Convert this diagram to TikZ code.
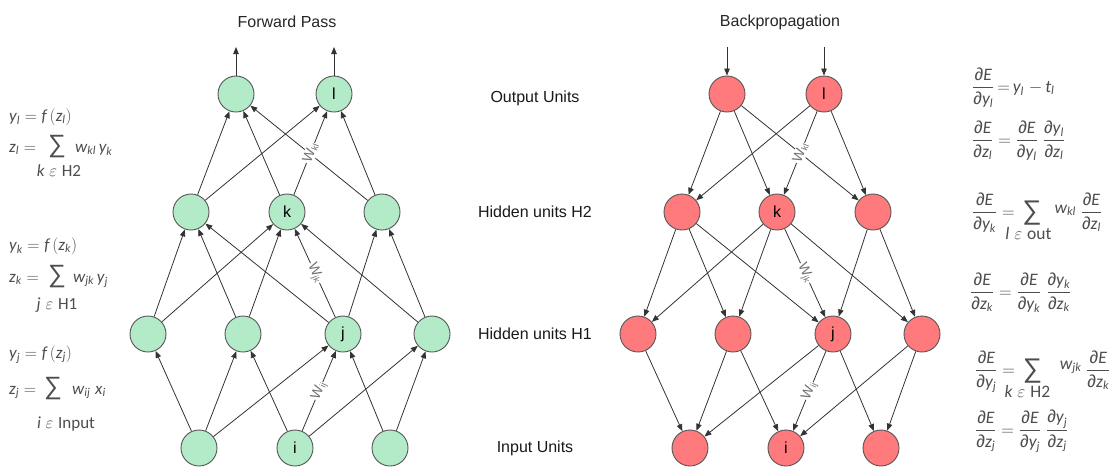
\RequirePackage{fix-cm}
\documentclass[tikz,border=0pt]{standalone}
\usepackage{amsmath}
\usepackage{fontspec}
\setmainfont{Liberation Sans}
\newfontfamily\fml{Carlito}
\usetikzlibrary{arrows.meta}

\definecolor{fwdfill}{HTML}{B3EBC8}
\definecolor{bwdfill}{HTML}{FF7A7C}
\definecolor{ringcol}{HTML}{555555}
\definecolor{edgecol}{HTML}{333333}
\definecolor{eqgray}{HTML}{4D4D4D}
\definecolor{wgray}{HTML}{707070}

% italic variable, upright word, partial sign
\newcommand\mvar[1]{\text{\fml\itshape #1}}
\newcommand\mrm[1]{\text{\fml #1}}
\newcommand\dpart{\text{∂}}
\newcommand\bigsum{\vcenter{\hbox{\fontsize{27}{27}\selectfont ∑}}}
% limit set under the sum without widening it; #1 = shift to the left
\newcommand\sumlim[2]{\hbox to 0pt{\hskip-#1$\textstyle #2$\hss}}
\newcommand\wt[1]{W{\fontsize{9}{9}\selectfont\raisebox{-1.5pt}{#1}}}

\begin{document}
\begin{tikzpicture}[x=1pt, y=-1pt,
  unit/.style={circle, draw=ringcol, line width=0.9pt, minimum size=36pt,
    inner sep=0pt, font=\fontsize{16}{16}\selectfont},
  fwd/.style={unit, fill=fwdfill},
  bwd/.style={unit, fill=bwdfill},
  conn/.style={draw=edgecol, line width=0.8pt,
    -{Triangle[length=7pt,width=5.5pt]}},
  wlabel/.style={sloped, fill=white, inner sep=0.8pt, text=wgray,
    font=\fontsize{14}{14}\selectfont},
  title/.style={text=black!85, font=\fontsize{16}{16}\selectfont},
  layer/.style={text=black!90, font=\fontsize{16}{16}\selectfont},
  eqn/.style={inner sep=0pt, text=eqgray, font=\fontsize{17}{20}\selectfont},
  reqn/.style={inner sep=0pt, text=eqgray, font=\fontsize{17.5}{20}\selectfont},
  sumsym/.style={inner sep=0pt, text=eqgray, font=\fontsize{25}{25}\selectfont}]

\useasboundingbox (0,0) rectangle (1117,467);

% titles
\node[title] (tf) at (287,22) {Forward Pass};
\node[title] (tb) at (780,22) {Backpropagation};

% layer names
\node[layer] (lo) at (535,98) {Output Units};
\node[layer] (l2) at (535,212) {Hidden units H2};
\node[layer] (l1) at (535,334) {Hidden units H1};
\node[layer] (li) at (535,448) {Input Units};

% ---------- forward network ----------
\node[fwd] (fo1) at (236,94) {};
\node[fwd] (fo2) at (334,94) {l};
\node[fwd] (fh2a) at (191,212) {};
\node[fwd] (fk) at (287,212) {k};
\node[fwd] (fh2c) at (382,212) {};
\node[fwd] (fh1a) at (148,334) {};
\node[fwd] (fh1b) at (243,334) {};
\node[fwd] (fj) at (343,334) {j};
\node[fwd] (fh1d) at (432,334) {};
\node[fwd] (fia) at (199,448) {};
\node[fwd] (fi) at (295,448) {i};
\node[fwd] (fic) at (390,448) {};

\coordinate (fo1t) at (236,47);
\coordinate (fo2t) at (334,47);
\draw[conn] (fo1) -- (fo1t);
\draw[conn] (fo2) -- (fo2t);

\draw[conn] (fh2a) -- (fo1);
\draw[conn] (fk) -- (fo1);
\draw[conn] (fh2c) -- (fo1);
\draw[conn] (fh2a) -- (fo2);
\draw[conn] (fk) -- node[wlabel] {\wt{kl}} (fo2);
\draw[conn] (fh2c) -- (fo2);

\draw[conn] (fh1a) -- (fh2a);
\draw[conn] (fh1a) -- (fk);
\draw[conn] (fh1b) -- (fh2a);
\draw[conn] (fh1b) -- (fk);
\draw[conn] (fj) -- (fh2a);
\draw[conn] (fj) -- node[wlabel] {\wt{jk}} (fk);
\draw[conn] (fj) -- (fh2c);
\draw[conn] (fh1d) -- (fk);
\draw[conn] (fh1d) -- (fh2c);

\draw[conn] (fia) -- (fh1a);
\draw[conn] (fia) -- (fh1b);
\draw[conn] (fia) -- (fj);
\draw[conn] (fi) -- (fh1b);
\draw[conn] (fi) -- node[wlabel] {\wt{ij}} (fj);
\draw[conn] (fi) -- (fh1d);
\draw[conn] (fic) -- (fj);
\draw[conn] (fic) -- (fh1d);

% ---------- backward network ----------
\node[bwd] (bo1) at (727,94) {};
\node[bwd] (bo2) at (824,94) {l};
\node[bwd] (bh2a) at (682,212) {};
\node[bwd] (bk) at (777,212) {k};
\node[bwd] (bh2c) at (873,212) {};
\node[bwd] (bh1a) at (638,334) {};
\node[bwd] (bh1b) at (733,334) {};
\node[bwd] (bj) at (833,334) {j};
\node[bwd] (bh1d) at (922,334) {};
\node[bwd] (bia) at (690,448) {};
\node[bwd] (bi) at (786,448) {i};
\node[bwd] (bic) at (881,448) {};

\coordinate (bo1t) at (727,47);
\coordinate (bo2t) at (824,47);
\draw[conn] (bo1t) -- (bo1);
\draw[conn] (bo2t) -- (bo2);

\draw[conn] (bo1) -- (bh2a);
\draw[conn] (bo1) -- (bk);
\draw[conn] (bo1) -- (bh2c);
\draw[conn] (bo2) -- (bh2a);
\draw[conn] (bo2) -- node[wlabel] {\wt{kl}} (bk);
\draw[conn] (bo2) -- (bh2c);

\draw[conn] (bh2a) -- (bh1a);
\draw[conn] (bk) -- (bh1a);
\draw[conn] (bh2a) -- (bh1b);
\draw[conn] (bk) -- (bh1b);
\draw[conn] (bh2a) -- (bj);
\draw[conn] (bk) -- node[wlabel] {\wt{jk}} (bj);
\draw[conn] (bh2c) -- (bj);
\draw[conn] (bk) -- (bh1d);
\draw[conn] (bh2c) -- (bh1d);

\draw[conn] (bh1a) -- (bia);
\draw[conn] (bh1b) -- (bia);
\draw[conn] (bj) -- (bia);
\draw[conn] (bh1b) -- (bi);
\draw[conn] (bj) -- node[wlabel] {\wt{ij}} (bi);
\draw[conn] (bh1d) -- (bi);
\draw[conn] (bj) -- (bic);
\draw[conn] (bh1d) -- (bic);

% ---------- forward equations ----------
\node[eqn, anchor=base west] (e1a) at (9,121) {$\mvar{y}_{\mvar{l}} = \mvar{f}\,(\mvar{z}_{\mvar{l}})$};
\node[eqn, anchor=base west] (e1b) at (9,152) {$\mvar{z}_{\mvar{l}} =$};
\node[sumsym] (e1s) at (57,147) {∑};
\node[eqn, anchor=base west] (e1c) at (75,152) {$\mvar{w}_{\mvar{kl}}\,\mvar{y}_{\mvar{k}}$};
\node[eqn] (e1d) at (59,171) {$\mvar{k}\;\varepsilon\;\mrm{H2}$};

\node[eqn, anchor=base west] (e2a) at (9,250) {$\mvar{y}_{\mvar{k}} = \mvar{f}\,(\mvar{z}_{\mvar{k}})$};
\node[eqn, anchor=base west] (e2b) at (9,282) {$\mvar{z}_{\mvar{k}} =$};
\node[sumsym] (e2s) at (57,277) {∑};
\node[eqn, anchor=base west] (e2c) at (73,282) {$\mvar{w}_{\mvar{jk}}\,\mvar{y}_{\mvar{j}}$};
\node[eqn] (e2d) at (57,305) {$\mvar{j}\;\varepsilon\;\mrm{H1}$};

\node[eqn, anchor=base west] (e3a) at (9,358) {$\mvar{y}_{\mvar{j}} = \mvar{f}\,(\mvar{z}_{\mvar{j}})$};
\node[eqn, anchor=base west] (e3b) at (9,394) {$\mvar{z}_{\mvar{j}} =$};
\node[sumsym] (e3s) at (53,389) {∑};
\node[eqn, anchor=base west] (e3c) at (72,394) {$\mvar{w}_{\mvar{ij}}\;\mvar{x}_{\mvar{i}}$};
\node[eqn] (e3d) at (66,424) {$\mvar{i}\;\varepsilon\;\mrm{Input}$};

% ---------- backward equations ----------
\node[reqn, anchor=base west] (r1) at (972,92)
  {$\dfrac{\dpart\mvar{E}}{\dpart\mvar{y}_{\mvar{l}}}\,{=}\,\mvar{y}_{\mvar{l}}\;{-}\,\mvar{t}_{\mvar{l}}$};
\node[reqn, anchor=base west] (r2) at (972,145)
  {$\dfrac{\dpart\mvar{E}}{\dpart\mvar{z}_{\mvar{l}}}\;{=}\;\dfrac{\dpart\mvar{E}}{\dpart\mvar{y}_{\mvar{l}}}\;\dfrac{\dpart\mvar{y}_{\mvar{l}}}{\dpart\mvar{z}_{\mvar{l}}}$};
\node[reqn, anchor=base west] (r3) at (972,217)
  {$\dfrac{\dpart\mvar{E}}{\dpart\mvar{y}_{\mvar{k}}}\;{=}\;\mathop{\bigsum}\limits_{\sumlim{12pt}{\mvar{l}\;\varepsilon\;\mrm{out}}}\hskip10pt\raisebox{4pt}{$\mvar{w}_{\mvar{kl}}$}\;\dfrac{\dpart\mvar{E}}{\dpart\mvar{z}_{\mvar{l}}}$};
\node[reqn, anchor=base west] (r4) at (970,297)
  {$\dfrac{\dpart\mvar{E}}{\dpart\mvar{z}_{\mvar{k}}}\;{=}\;\dfrac{\dpart\mvar{E}}{\dpart\mvar{y}_{\mvar{k}}}\;\dfrac{\dpart\mvar{y}_{\mvar{k}}}{\dpart\mvar{z}_{\mvar{k}}}$};
\node[reqn, anchor=base west] (r5) at (975,375)
  {$\dfrac{\dpart\mvar{E}}{\dpart\mvar{y}_{\mvar{j}}}\;{=}\;\mathop{\bigsum}\limits_{\sumlim{14pt}{\mvar{k}\;\varepsilon\;\mrm{H2}}}\hskip15pt\raisebox{6pt}{$\mvar{w}_{\mvar{jk}}$}\;\dfrac{\dpart\mvar{E}}{\dpart\mvar{z}_{\mvar{k}}}$};
\node[reqn, anchor=base west] (r6) at (975,435)
  {$\dfrac{\dpart\mvar{E}}{\dpart\mvar{z}_{\mvar{j}}}\;{=}\;\dfrac{\dpart\mvar{E}}{\dpart\mvar{y}_{\mvar{j}}}\;\dfrac{\dpart\mvar{y}_{\mvar{j}}}{\dpart\mvar{z}_{\mvar{j}}}$};

\end{tikzpicture}
\end{document}
